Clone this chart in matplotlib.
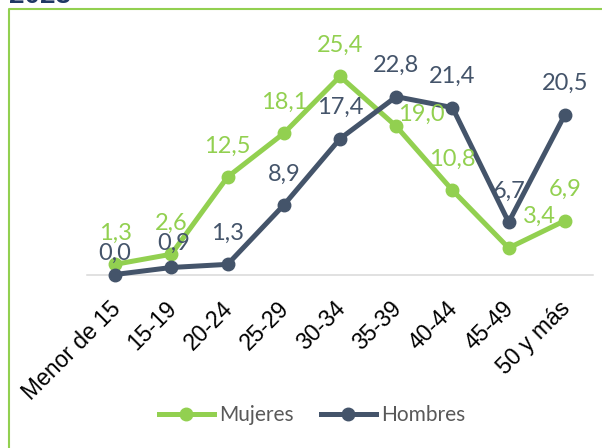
import matplotlib
matplotlib.use("Agg")
import matplotlib.pyplot as plt
import matplotlib.transforms as mtransforms
from matplotlib.lines import Line2D

categories = ["Menor de 15", "15-19", "20-24", "25-29", "30-34", "35-39", "40-44", "45-49", "50 y más"]
mujeres = [1.3, 2.6, 12.5, 18.1, 25.4, 19.0, 10.8, 3.4, 6.9]
hombres = [0.0, 0.9, 1.3, 8.9, 17.4, 22.8, 21.4, 6.7, 20.5]
labels_mujeres = ["1,3", "2,6", "12,5", "18,1", "25,4", "19,0", "10,8", "3,4", "6,9"]
labels_hombres = ["0,0", "0,9", "1,3", "8,9", "17,4", "22,8", "21,4", "6,7", "20,5"]

GREEN = "#92D050"
NAVY = "#44546A"
DPI = 100
W, H = 602, 448

fig = plt.figure(figsize=(W / DPI, H / DPI), dpi=DPI)
fig.patch.set_facecolor("white")

# frame (green border, partially cut off)
fig.add_artist(Line2D([9 / W, 9 / W, 1.0], [0.0, 1 - 9 / H, 1 - 9 / H],
                      transform=fig.transFigure, color=GREEN, lw=1.5))
# partially visible title (cut off at the top edge, as in the reference)
fig.text(9 / W, 1 - 3 / H, "2023", fontsize=20, fontweight="bold", color="#1F3864",
         family="Liberation Sans", va="baseline", ha="left")

ax_left, ax_right = 87, 593
ax_bottom_px, ax_top_px = 274.5, 40.5
ax = fig.add_axes([ax_left / W, 1 - ax_bottom_px / H, (ax_right - ax_left) / W,
                   (ax_bottom_px - ax_top_px) / H])
ax.set_xlim(-0.5, len(categories) - 0.5)
ax.set_ylim(0, 30)
for s in ax.spines.values():
    s.set_visible(False)
ax.set_yticks([])
ax.axhline(0, color="#D9D9D9", lw=1.1, zorder=1, clip_on=False)

x = list(range(len(categories)))
ax.plot(x, mujeres, color=GREEN, lw=3.6, marker="o", ms=9, zorder=3, clip_on=False,
        solid_joinstyle="miter", label="Mujeres")
ax.plot(x, hombres, color=NAVY, lw=3.6, marker="o", ms=9, zorder=4, clip_on=False,
        solid_joinstyle="miter", label="Hombres")

ax.set_xticks(x)
ax.set_xticklabels(categories, rotation=45, ha="right", va="center",
                   rotation_mode="anchor", fontsize=16.5, family="Liberation Sans",
                   color="black")
ax.tick_params(axis="x", length=0, pad=22)
offset = mtransforms.ScaledTranslation(2 / DPI, 0, fig.dpi_scale_trans)
for lbl in ax.get_xticklabels():
    lbl.set_transform(lbl.get_transform() + offset)

px = 72 / DPI
default_up = 31
over_m = {5: (25, 12), 7: (31, 32)}
over_h = {0: (0, 21.5), 1: (2, 24.5)}
for i in x:
    dx, up = over_m.get(i, (0, default_up))
    ax.annotate(labels_mujeres[i], (i, mujeres[i]), xytext=(dx * px, up * px),
                textcoords="offset points", ha="center", va="center",
                fontsize=17, family="Lato", color=GREEN, zorder=5)
    dx, up = over_h.get(i, (0, default_up))
    ax.annotate(labels_hombres[i], (i, hombres[i]), xytext=(dx * px, up * px),
                textcoords="offset points", ha="center", va="center",
                fontsize=17, family="Lato", color=NAVY, zorder=6)

leg = fig.legend(loc="center", bbox_to_anchor=(312 / W, 1 - 415 / H), ncol=2,
                 frameon=False, prop={"family": "Lato", "size": 15},
                 handlelength=2.64, handletextpad=0.25, columnspacing=1.3,
                 labelcolor="#595959")

fig.savefig("out.png", dpi=DPI)
